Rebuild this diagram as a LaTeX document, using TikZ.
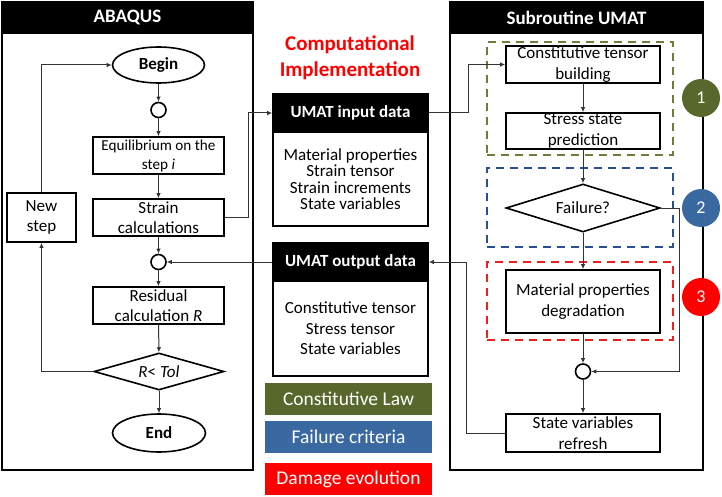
\documentclass[tikz,border=0pt]{standalone}
\usepackage{fontspec}
\setmainfont{Carlito}
\usetikzlibrary{shapes.geometric,arrows.meta}
\definecolor{cgreen}{RGB}{88,104,44}
\definecolor{cblue}{RGB}{58,104,160}
\definecolor{cred}{RGB}{255,0,0}
\definecolor{dgreen}{RGB}{110,125,55}
\definecolor{dblue}{RGB}{40,80,145}
\definecolor{dred}{RGB}{240,30,30}
\tikzset{
  fs/.style={font=\fontsize{17}{20.5}\selectfont},
  frame/.style={draw, line width=1.6pt, inner sep=0pt},
  hdr/.style={draw, fill=black, text=white, line width=1.6pt, inner sep=0pt, font=\fontsize{19}{22}\selectfont\bfseries},
  proc/.style={draw, line width=1.6pt, inner sep=0pt, align=center, fs},
  term/.style={ellipse, draw, line width=1.6pt, inner sep=0pt, font=\fontsize{17}{20}\selectfont\bfseries},
  dec/.style={diamond, draw, line width=1.6pt, inner sep=0pt, aspect=3.5, fs},
  junc/.style={circle, draw, line width=1.6pt, inner sep=0pt, minimum size=15pt},
  subhdr/.style={draw, fill=black, text=white, line width=1.6pt, inner sep=0pt, minimum width=155pt, minimum height=38pt, font=\fontsize{17}{20}\selectfont\bfseries},
  body/.style={draw, line width=1.6pt, inner sep=0pt, align=center, minimum width=155pt},
  legend/.style={fill=#1, text=white, inner sep=0pt, minimum width=167pt, minimum height=32pt, font=\fontsize{19.5}{22}\selectfont},
  dbox/.style={draw=#1, dashed, dash pattern=on 8pt off 6pt, line width=2pt, inner sep=0pt, minimum width=186pt},
  num/.style={circle, fill=#1, text=white, inner sep=0pt, minimum size=38pt, font=\fontsize{18}{20}\selectfont},
  conn/.style={draw=black!80, line width=1pt},
  arr/.style={conn, -{Latex[length=5pt,width=4.5pt]}},
}
\begin{document}
\begin{tikzpicture}[x=1pt,y=-1pt]
\useasboundingbox (0,0) rectangle (722,497);
% frames
\node[frame, minimum width=251pt, minimum height=468pt] (abqframe) at (127.5,236) {};
\node[hdr, minimum width=251pt, minimum height=31pt] (abqhead) at (127.5,17.5) {ABAQUS};
\node[frame, minimum width=253pt, minimum height=468pt] (umframe) at (576.5,236) {};
\node[hdr, minimum width=253pt, minimum height=31pt] (umhead) at (576.5,17.5) {Subroutine UMAT};
% left flow
\node[term, minimum width=92pt, minimum height=36pt] (begin) at (158.5,65) {Begin};
\node[junc] (c1) at (158.5,110) {};
\node[proc, minimum width=131pt, minimum height=37pt, font=\fontsize{15.2}{19}\selectfont] (equil) at (158.5,155.5) {Equilibrium on the\\step \textit{i}};
\node[proc, minimum width=131pt, minimum height=37pt] (strain) at (158.5,217.5) {Strain\\calculations};
\node[proc, minimum width=69pt, minimum height=49pt] (newstep) at (41.5,217.5) {New\\step};
\node[junc] (c2) at (158.5,262) {};
\node[proc, minimum width=131pt, minimum height=37pt] (resid) at (158.5,305.5) {Residual\\calculation \textit{R}};
\node[dec, minimum width=130pt, minimum height=37pt] (rtol) at (159,371.5) {\textit{R}< \textit{Tol}};
\node[term, minimum width=93pt, minimum height=38pt] (endn) at (159,433) {End};
% middle
\node[text=cred, align=center, font=\fontsize{21}{26}\selectfont\bfseries] (title) at (350,58) {Computational\\Implementation};
\node[subhdr] (inhead) at (350.5,113) {UMAT input data};
\node[body, minimum height=94pt, font=\fontsize{17}{16.5}\selectfont] (inbody) at (350.5,179) {Material properties\\Strain tensor\\Strain increments\\State variables};
\node[subhdr] (outhead) at (350.5,262) {UMAT output data};
\node[body, minimum height=95pt, font=\fontsize{17}{20.5}\selectfont] (outbody) at (350.5,328.5) {Constitutive tensor\\Stress tensor\\State variables};
\node[legend=cgreen] (leg1) at (348.5,399) {Constitutive Law};
\node[legend=cblue] (leg2) at (348.5,437) {Failure criteria};
\node[legend=cred] (leg3) at (348.5,479) {Damage evolution};
% right flow
\node[dbox=dgreen, minimum height=113pt] (gdash) at (580,98.5) {};
\node[dbox=dblue, minimum height=79pt] (bdash) at (580,207.5) {};
\node[dbox=dred, minimum height=78pt] (rdash) at (580,301) {};
\node[proc, minimum width=154pt, minimum height=37pt, fill=white] (constit) at (583,64.5) {Constitutive tensor\\building};
\node[proc, minimum width=154pt, minimum height=36pt, fill=white] (stress) at (583,131) {Stress state\\prediction};
\node[dec, minimum width=154pt, minimum height=48pt] (fail) at (583,208) {Failure?};
\node[proc, minimum width=154pt, minimum height=63pt, fill=white] (degrad) at (583,301.5) {Material properties\\degradation};
\node[junc] (c3) at (583,371.5) {};
\node[proc, minimum width=154pt, minimum height=38pt] (refresh) at (583,433) {State variables\\refresh};
\node[num=cgreen] (n1) at (701,98) {1};
\node[num=cblue] (n2) at (701,208) {2};
\node[num=cred] (n3) at (701,297) {3};
% connectors left
\draw[arr] (begin) -- (c1);
\draw[arr] (c1) -- (equil);
\draw[arr] (equil) -- (strain);
\draw[arr] (strain) -- (c2);
\draw[arr] (c2) -- (resid);
\draw[arr] (resid) -- (rtol);
\draw[arr] (rtol) -- (endn);
\draw[arr] (rtol.west) -| (newstep.south);
\draw[arr] (newstep.north) |- (begin.west);
\draw[arr] (strain.east) -- ++(24,0) |- (inhead.west);
\draw[arr] (inhead.east) -- ++(40,0) |- (constit.west);
\draw[arr] (outhead.west) -- (c2.east);
% connectors right
\draw[arr] (constit) -- (stress);
\draw[arr] (stress) -- (fail);
\draw[arr] (fail) -- (degrad);
\draw[arr] (degrad) -- (c3);
\draw[arr] (c3) -- (refresh);
\draw[arr] (fail.east) -- ++(19,0) |- (c3.east);
\draw[arr] (refresh.west) -- ++(-39,0) |- (outhead.east);
\end{tikzpicture}
\end{document}
